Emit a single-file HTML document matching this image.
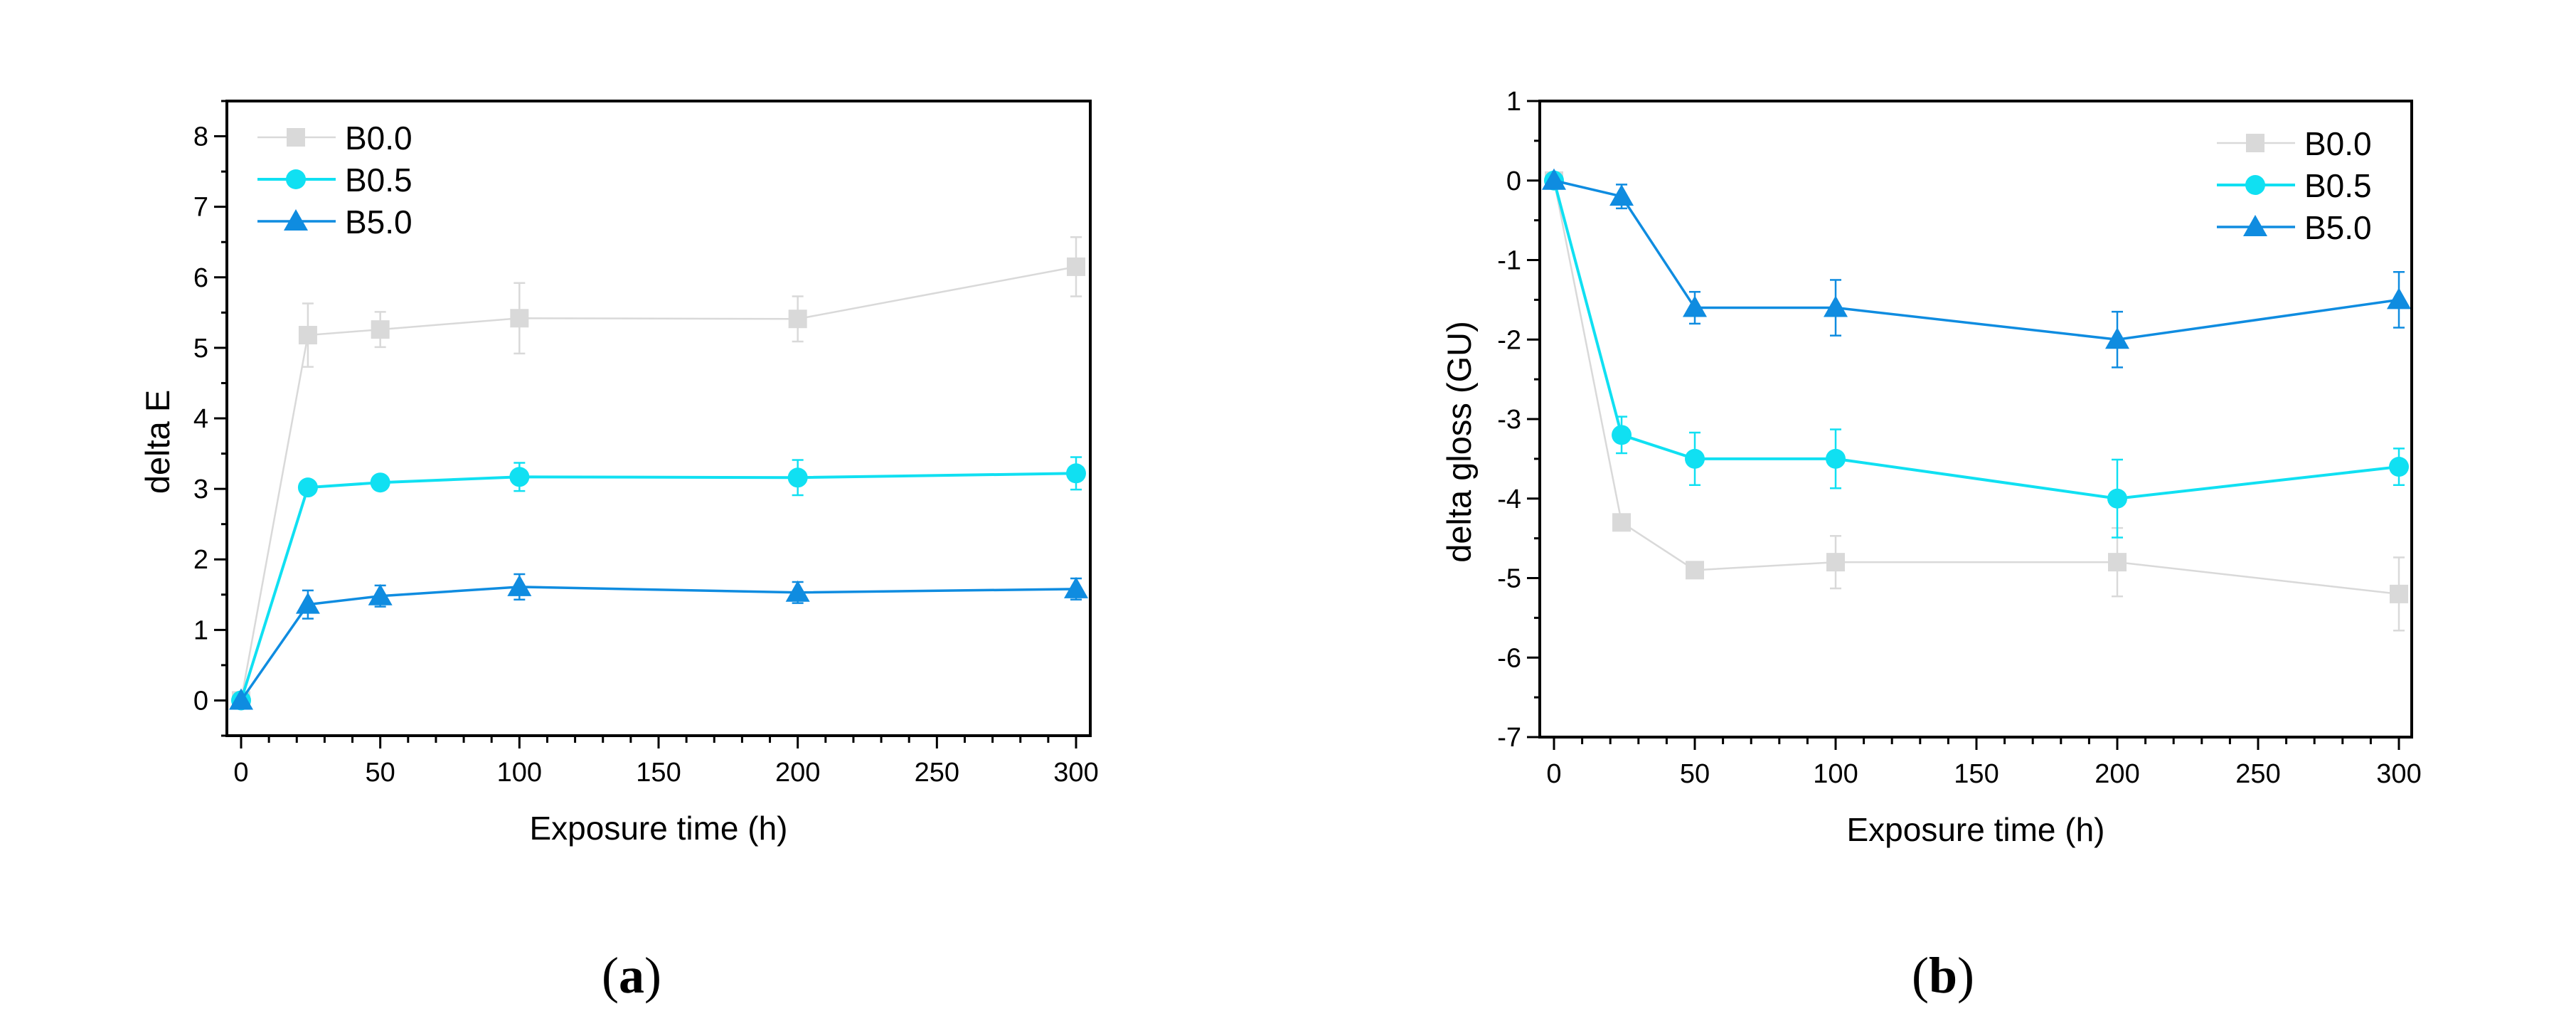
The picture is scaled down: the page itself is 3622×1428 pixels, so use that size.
<!DOCTYPE html>
<html><head><meta charset="utf-8"><style>
html,body{margin:0;padding:0;background:#fff;}
svg{display:block;font-family:"Liberation Sans",Arial,sans-serif;}
</style></head><body>
<svg id="fig" width="3622" height="1428" viewBox="0 0 3622 1428" xmlns="http://www.w3.org/2000/svg">
<rect x="0" y="0" width="3622" height="1428" fill="#ffffff"/>
</svg>
<script>
const hours = [0, 24, 50, 100, 200, 300];
const seriesNames = ["B0.0", "B0.5", "B5.0"];
const deltaE_B00 = [0, 5.18, 5.26, 5.42, 5.41, 6.15];
const deltaE_B00_err = [0, 0.45, 0.25, 0.5, 0.32, 0.42];
const deltaE_B05 = [0, 3.02, 3.09, 3.17, 3.16, 3.22];
const deltaE_B05_err = [0, 0.05, 0.08, 0.2, 0.25, 0.23];
const deltaE_B50 = [0, 1.36, 1.48, 1.61, 1.53, 1.58];
const deltaE_B50_err = [0, 0.2, 0.15, 0.18, 0.15, 0.15];
const gloss_B00 = [0, -4.3, -4.9, -4.8, -4.8, -5.2];
const gloss_B00_err = [0, 0.05, 0.08, 0.33, 0.43, 0.46];
const gloss_B05 = [0, -3.2, -3.5, -3.5, -4.0, -3.6];
const gloss_B05_err = [0, 0.23, 0.33, 0.37, 0.49, 0.23];
const gloss_B50 = [0, -0.2, -1.6, -1.6, -2.0, -1.5];
const gloss_B50_err = [0, 0.15, 0.2, 0.35, 0.35, 0.35];
const xTickLabels = ["0", "50", "100", "150", "200", "250", "300"];
const deltaETicks = ["0", "1", "2", "3", "4", "5", "6", "7", "8"];
const glossTicks = ["-7", "-6", "-5", "-4", "-3", "-2", "-1", "0", "1"];

const NS = "http://www.w3.org/2000/svg";
const svg = document.getElementById("fig");
function mk(tag, attrs, parent) {
  const e = document.createElementNS(NS, tag);
  for (const k in attrs) e.setAttribute(k, attrs[k]);
  (parent || svg).appendChild(e);
  return e;
}
const colors = ["#d9d9d9", "#10e0f2", "#0f8ce0"];
const widths = [2.5, 4, 3.5];
const shapes = ["square", "circle", "triangle"];

function marker(g, shape, cx, cy, color) {
  let m;
  if (shape === "square") m = mk("rect", {x: cx - 13, y: cy - 13, width: 26, height: 26, fill: color}, g);
  else if (shape === "circle") m = mk("circle", {cx: cx, cy: cy, r: 14, fill: color}, g);
  else m = mk("polygon", {points: (cx) + "," + (cy - 17) + " " + (cx + 17) + "," + (cy + 13) + " " + (cx - 17) + "," + (cy + 13), fill: color}, g);
  return m;
}

function chart(cfg) {
  const g = mk("g", {});
  
  
  const L = cfg.left, R = cfg.right, T = cfg.top, B = cfg.bottom;
  const xs = v => cfg.x0 + (v - 0) * (cfg.x300 - cfg.x0) / 300;
  const ys = v => B - (v - cfg.ymin) * (B - T) / (cfg.ymax - cfg.ymin);
  mk("rect", {x: L, y: T, width: R - L, height: B - T, fill: "#fff"}, g);
  // x ticks
  const xa = mk("g", {}, g);
  
  
  for (let v = 0; v <= 300; v += 10) {
    const major = v % 50 === 0;
    mk("line", {x1: xs(v), x2: xs(v), y1: B, y2: B + (major ? 18 : 10), stroke: "#000", "stroke-width": 3}, xa);
  }
  xTickLabels.forEach((t, i) => {
    const tx = mk("text", {x: xs(+t), y: B + 64, "font-size": 38, "text-anchor": "middle", fill: "#000"}, xa);
    tx.textContent = t;
    
    
  });
  const xt = mk("text", {x: (L + R) / 2, y: B + 146, "font-size": 46, "text-anchor": "middle", fill: "#000"}, g);
  xt.textContent = "Exposure time (h)";
  
  
  // y ticks
  const ya = mk("g", {}, g);
  
  
  for (let v = cfg.ymin; v <= cfg.ymax + 1e-9; v += 0.5) {
    const major = Math.abs(v - Math.round(v)) < 1e-9;
    mk("line", {x1: L - (major ? 18 : 8), x2: L, y1: ys(v), y2: ys(v), stroke: "#000", "stroke-width": 3}, ya);
  }
  cfg.yTicks.forEach(t => {
    const tx = mk("text", {x: L - 26, y: ys(+t) + 13, "font-size": 38, "text-anchor": "end", fill: "#000"}, ya);
    tx.textContent = t;
    
    
  });
  const yt = mk("text", {x: 0, y: 0, "font-size": 47, "text-anchor": "middle", fill: "#000", transform: "translate(" + cfg.ytX + "," + cfg.ytY + ") rotate(-90)"}, g);
  yt.textContent = cfg.ytitle;
  
  
  // series
  cfg.series.forEach((vals, si) => {
    const errs = cfg.errs[si];
    const sg = mk("g", {}, g);
    
    
    const c = colors[si];
    vals.forEach((v, i) => {
      if (errs[i] > 0) {
        const x = xs(hours[i]);
        mk("line", {x1: x, x2: x, y1: ys(v - errs[i]), y2: ys(v + errs[i]), stroke: c, "stroke-width": 2.5}, sg);
        mk("line", {x1: x - 8, x2: x + 8, y1: ys(v - errs[i]), y2: ys(v - errs[i]), stroke: c, "stroke-width": 2.5}, sg);
        mk("line", {x1: x - 8, x2: x + 8, y1: ys(v + errs[i]), y2: ys(v + errs[i]), stroke: c, "stroke-width": 2.5}, sg);
      }
    });
    const pts = vals.map((v, i) => xs(hours[i]) + "," + ys(v)).join(" ");
    const pl = mk("polyline", {points: pts, fill: "none", stroke: c, "stroke-width": widths[si]}, sg);
    
    
    vals.forEach((v, i) => {
      const m = marker(sg, shapes[si], xs(hours[i]), ys(v), c);
      
      
    });
  });
  // frame
  mk("rect", {x: L, y: T, width: R - L, height: B - T, fill: "none", stroke: "#000", "stroke-width": 4}, g);
  // legend
  const lg = mk("g", {}, g);
  
  
  seriesNames.forEach((n, si) => {
    const y = cfg.legY + si * 59;
    const e = mk("g", {}, lg);
    
    
    mk("line", {x1: cfg.legX, x2: cfg.legX + 110, y1: y, y2: y, stroke: colors[si], "stroke-width": widths[si]}, e);
    marker(e, shapes[si], cfg.legX + 54, y, colors[si]);
    const t = mk("text", {x: cfg.legX + 123, y: y + 17, "font-size": 46, fill: "#000"}, e);
    t.textContent = n;
  });
  // panel label
  const pl = mk("text", {x: cfg.labX, y: 1395, "font-size": 72, "text-anchor": "middle", "font-family": "'Liberation Serif', serif", fill: "#000"}, g);
  pl.innerHTML = "(<tspan font-weight='bold'>" + cfg.label + "</tspan>)";
  
  
}

chart({name: "chart-delta-e", left: 319, right: 1533, top: 142, bottom: 1034, x0: 339, x300: 1513,
  ymin: -0.5, ymax: 8.5, yTicks: deltaETicks, ytitle: "delta E", ytX: 238, ytY: 621,
  series: [deltaE_B00, deltaE_B05, deltaE_B50], errs: [deltaE_B00_err, deltaE_B05_err, deltaE_B50_err],
  legX: 362, legY: 193, labX: 888, label: "a"});
chart({name: "chart-delta-gloss", left: 2165, right: 3391, top: 142, bottom: 1036, x0: 2185, x300: 3373,
  ymin: -7, ymax: 1, yTicks: glossTicks, ytitle: "delta gloss (GU)", ytX: 2068, ytY: 621,
  series: [gloss_B00, gloss_B05, gloss_B50], errs: [gloss_B00_err, gloss_B05_err, gloss_B50_err],
  legX: 3117, legY: 201, labX: 2732, label: "b"});
</script>
</body></html>
